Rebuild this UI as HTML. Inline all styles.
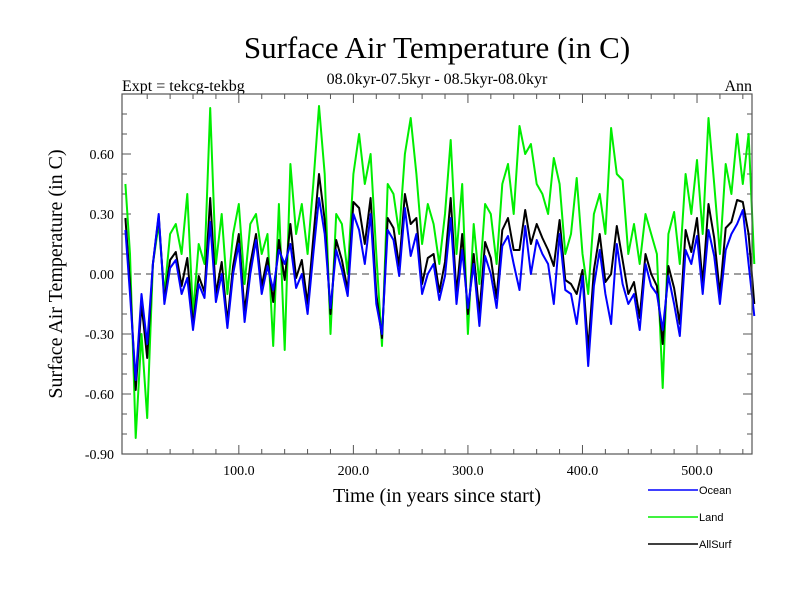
<!DOCTYPE html>
<html><head><meta charset="utf-8">
<style>
html,body{margin:0;padding:0;background:#fff;}
svg{display:block;}
text{font-family:"Liberation Serif",serif;fill:#000;}
.leg{font-family:"Liberation Sans",sans-serif;font-size:11px;}
</style></head>
<body>
<svg id="chart" width="800" height="600" viewBox="0 0 800 600">
<text x="437" y="58" font-size="31" text-anchor="middle">Surface Air Temperature (in C)</text>
<text x="437" y="84" font-size="16" text-anchor="middle">08.0kyr-07.5kyr - 08.5kyr-08.0kyr</text>
<text x="122" y="91" font-size="16">Expt = tekcg-tekbg</text>
<text x="752" y="91" font-size="16" text-anchor="end">Ann</text>
<text x="437" y="502" font-size="20" text-anchor="middle">Time (in years since start)</text>
<text transform="translate(62,274) rotate(-90)" font-size="20" text-anchor="middle">Surface Air Temperature (in C)</text>
<g id="axes"></g>
<g id="series"></g>
<rect x="122" y="94" width="630" height="360" fill="none" stroke="#555" stroke-width="1.2"/>
<g id="legend"></g>
</svg>
<script>
const years=[1,5,10,15,20,25,30,35,40,45,50,55,60,65,70,75,80,85,90,95,100,105,110,115,120,125,130,135,140,145,150,155,160,165,170,175,180,185,190,195,200,205,210,215,220,225,230,235,240,245,250,255,260,265,270,275,280,285,290,295,300,305,310,315,320,325,330,335,340,345,350,355,360,365,370,375,380,385,390,395,400,405,410,415,420,425,430,435,440,445,450,455,460,465,470,475,480,485,490,495,500,505,510,515,520,525,530,535,540,545,550];
const ocean=[0.22,-0.1,-0.53,-0.1,-0.35,0.05,0.3,-0.15,0.03,0.07,-0.1,-0.02,-0.28,-0.05,-0.12,0.26,-0.14,0.0,-0.27,0.0,0.15,-0.24,0.0,0.17,-0.1,0.04,-0.08,0.12,0.05,0.15,-0.07,0.0,-0.2,0.1,0.38,0.2,-0.17,0.12,0.02,-0.11,0.3,0.22,0.05,0.3,-0.15,-0.3,0.22,0.17,-0.01,0.33,0.09,0.2,-0.1,0.0,0.05,-0.13,-0.01,0.28,-0.15,0.12,-0.17,0.05,-0.26,0.09,0.0,-0.17,0.14,0.19,0.05,-0.08,0.24,0.0,0.17,0.1,0.05,-0.15,0.2,-0.08,-0.1,-0.25,-0.01,-0.46,-0.06,0.12,-0.1,-0.25,0.15,-0.05,-0.15,-0.1,-0.28,0.05,-0.06,-0.1,-0.28,-0.01,-0.15,-0.31,0.12,0.05,0.19,-0.1,0.22,0.09,-0.15,0.12,0.2,0.25,0.32,0.05,-0.21];
const land=[0.45,0.1,-0.82,-0.3,-0.72,0.05,0.25,-0.1,0.2,0.25,0.1,0.4,-0.2,0.15,0.05,0.83,0.05,0.3,-0.1,0.2,0.35,-0.05,0.25,0.3,0.1,0.2,-0.36,0.35,-0.38,0.55,0.2,0.35,0.1,0.45,0.84,0.5,-0.3,0.3,0.25,0.0,0.5,0.7,0.45,0.6,0.1,-0.36,0.45,0.4,0.2,0.6,0.78,0.5,0.15,0.35,0.25,0.05,0.3,0.67,0.1,0.45,-0.3,0.25,-0.05,0.35,0.3,0.05,0.45,0.55,0.3,0.74,0.6,0.65,0.45,0.4,0.3,0.58,0.45,0.1,0.2,0.48,0.1,-0.1,0.3,0.4,0.2,0.73,0.5,0.47,0.1,0.25,0.05,0.3,0.2,0.1,-0.57,0.2,0.31,0.05,0.5,0.3,0.57,0.2,0.78,0.45,0.1,0.55,0.4,0.7,0.45,0.7,0.05];
const allsurf=[0.28,-0.05,-0.58,-0.15,-0.42,0.05,0.29,-0.13,0.07,0.11,-0.06,0.08,-0.26,-0.01,-0.09,0.38,-0.1,0.06,-0.24,0.04,0.2,-0.19,0.05,0.2,-0.06,0.08,-0.14,0.17,-0.03,0.25,-0.02,0.07,-0.15,0.18,0.5,0.27,-0.2,0.17,0.07,-0.08,0.36,0.33,0.15,0.38,-0.1,-0.32,0.28,0.23,0.04,0.4,0.25,0.28,-0.05,0.08,0.1,-0.09,0.06,0.38,-0.1,0.2,-0.2,0.1,-0.2,0.16,0.08,-0.12,0.22,0.28,0.12,0.12,0.32,0.15,0.25,0.18,0.12,0.04,0.27,-0.03,-0.05,-0.1,0.02,-0.38,0.02,0.2,-0.04,0.0,0.24,0.07,-0.1,-0.04,-0.22,0.1,0.0,-0.06,-0.35,0.04,-0.07,-0.25,0.22,0.11,0.28,-0.05,0.35,0.18,-0.1,0.23,0.26,0.37,0.36,0.2,-0.15];
const yTickVals=[0.6,0.3,0.0,-0.3,-0.6,-0.9];
const yTickLabels=["0.60","0.30","0.00","-0.30","-0.60","-0.90"];
const xTickVals=[100,200,300,400,500];
const xTickLabels=["100.0","200.0","300.0","400.0","500.0"];
const legendNames=["Ocean","Land","AllSurf"];

const NS="http://www.w3.org/2000/svg";
const X0=122,X1=752,Y0=94,Y1=454;
const xMin=-2,xMax=548;
const vMin=-0.9,vMax=0.9;
const xs=v=>X0+(v-xMin)/(xMax-xMin)*(X1-X0);
const ys=v=>Y1-(v-vMin)/(vMax-vMin)*(Y1-Y0);
function mk(tag,attrs,parent){const e=document.createElementNS(NS,tag);for(const k in attrs)e.setAttribute(k,attrs[k]);parent.appendChild(e);return e;}
const axes=document.getElementById('axes');
// zero line
const zl=mk('line',{x1:X0,x2:X1,y1:ys(0),y2:ys(0),stroke:'#666','stroke-width':1.2,'stroke-dasharray':'7,5'},axes);


// y ticks
for(let v=-0.8;v<0.85;v+=0.1){
  const vv=Math.round(v*10)/10;const major=Math.abs(Math.round(vv*10))%3===0;const L=major?9:5;const y=ys(vv);
  const t1=mk('line',{x1:X0,x2:X0+L,y1:y,y2:y,stroke:'#555','stroke-width':1},axes);
  
  
  const t2=mk('line',{x1:X1,x2:X1-L,y1:y,y2:y,stroke:'#555','stroke-width':1},axes);
  
  
}
yTickVals.forEach((v,i)=>{
  const t=mk('text',{x:X0-8,y:ys(v)+5,'font-size':14,'text-anchor':'end'},axes);t.textContent=yTickLabels[i];
  
  
});
// x ticks
for(let v=20;v<xMax;v+=20){
  const major=v%100===0;const L=major?9:5;const x=xs(v);
  const t1=mk('line',{x1:x,x2:x,y1:Y1,y2:Y1-L,stroke:'#555','stroke-width':1},axes);
  
  
  const t2=mk('line',{x1:x,x2:x,y1:Y0,y2:Y0+L,stroke:'#555','stroke-width':1},axes);
  
  
}
xTickVals.forEach((v,i)=>{
  const t=mk('text',{x:xs(v),y:Y1+21,'font-size':14,'text-anchor':'middle'},axes);t.textContent=xTickLabels[i];
  
  
});
// series
const sg=document.getElementById('series');
function line(vals,color,name){
  const d=vals.map((v,i)=>(i?'L':'M')+xs(years[i]).toFixed(1)+','+ys(v).toFixed(1)).join('');
  const p=mk('path',{d:d,fill:'none',stroke:color,'stroke-width':2,'stroke-linejoin':'round'},sg);
  
  
}
line(land,'#00ee00','land-line');
line(allsurf,'#000000','allsurf-line');
line(ocean,'#0000ff','ocean-line');
// legend
const lg=document.getElementById('legend');
const lcolors=['#0000ff','#00ee00','#000000'];
legendNames.forEach((n,i)=>{
  const y=490+i*27;
  const l=mk('line',{x1:648,x2:698,y1:y,y2:y,stroke:lcolors[i],'stroke-width':1.5},lg);
  
  
  const t=mk('text',{x:699,y:y+4,'class':'leg'},lg);t.textContent=n;
  
  
});
</script>
</body></html>
